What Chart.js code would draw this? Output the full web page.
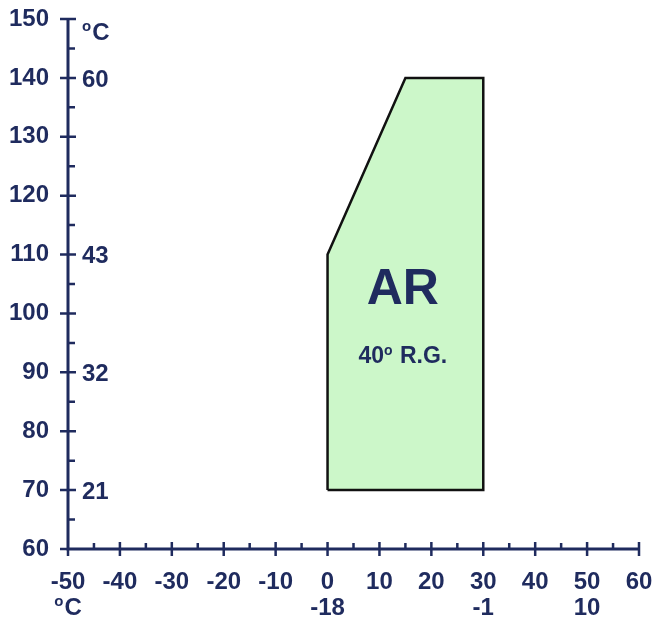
<!DOCTYPE html>
<html>
<head>
<meta charset="utf-8">
<script src="https://cdn.jsdelivr.net/npm/chart.js@4.4.1/dist/chart.umd.min.js"></script>
<style>
  html, body { margin: 0; padding: 0; background: #ffffff; }
  #wrap { width: 656px; height: 619px; position: relative; }
</style>
</head>
<body>
<div id="wrap"><canvas id="c" width="656" height="619"></canvas></div>
<script>
// ----- data -----
const xRange = [-50, 60];          // °F axis
const yRange = [60, 150];          // °F axis
const regionX = [0, 30, 30, 15, 0, 0];
const regionY = [70, 70, 140, 140, 110, 70];
const celsiusYValues = [150, 140, 110, 90, 70];
const celsiusYLabels = ['°C', '60', '43', '32', '21'];
const celsiusXValues = [-50, 0, 30, 50];
const celsiusXLabels = ['°C', '-18', '-1', '10'];
const regionTitle = 'AR';
const regionSubtitle = '40° R.G.';
const regionLabelPos = { x: 14.5, title: 104.6, subtitle: 93.0 };

// ----- style -----
const NAVY = '#1f2b5e';
const FONT = '"Liberation Sans", Arial, sans-serif';
const LABEL_SIZE = 24;

function drawRich(ctx, text, x, yMid, size, align) {
  const parts = text.split('°');
  const small = Math.round(size * 0.62);
  const widths = [];
  let total = 0;
  parts.forEach((p, i) => {
    ctx.font = 'bold ' + size + 'px ' + FONT;
    const w = ctx.measureText(p).width;
    widths.push(w); total += w;
    if (i < parts.length - 1) {
      ctx.font = 'bold ' + small + 'px ' + FONT;
      const wo = ctx.measureText('o').width + 1;
      widths.push(wo); total += wo;
    }
  });
  let cx = align === 'center' ? x - total / 2 : (align === 'right' ? x - total : x);
  const base = yMid + 0.36 * size;
  const smallBase = base - 0.716 * size + 0.6 * small;
  ctx.textBaseline = 'alphabetic';
  ctx.textAlign = 'left';
  let k = 0;
  parts.forEach((p, i) => {
    ctx.font = 'bold ' + size + 'px ' + FONT;
    ctx.fillText(p, cx, base);
    cx += widths[k++];
    if (i < parts.length - 1) {
      ctx.font = 'bold ' + small + 'px ' + FONT;
      ctx.fillText('o', cx, smallBase);
      cx += widths[k++];
    }
  });
}

const axesPlugin = {
  id: 'axesPlugin',
  afterDatasetsDraw(chart) {
    const ctx = chart.ctx;
    const xs = chart.scales.x, ys = chart.scales.y;
    const x0 = xs.getPixelForValue(xRange[0]);
    const x1 = xs.getPixelForValue(xRange[1]);
    const y0 = ys.getPixelForValue(yRange[0]);
    const y1 = ys.getPixelForValue(yRange[1]);
    ctx.save();
    ctx.strokeStyle = NAVY;
    ctx.fillStyle = NAVY;
    ctx.lineCap = 'butt';
    // axis lines
    ctx.lineWidth = 3;
    ctx.beginPath();
    ctx.moveTo(x0, y1 - 1); ctx.lineTo(x0, y0 + 1.5);
    ctx.moveTo(x0 - 1.5, y0); ctx.lineTo(x1 + 1, y0);
    ctx.stroke();
    // ticks
    ctx.lineWidth = 2.5;
    ctx.beginPath();
    ys.ticks.forEach(t => {
      const py = ys.getPixelForValue(t.value);
      if (t.value === yRange[0]) { ctx.moveTo(x0 - 8, py); ctx.lineTo(x0, py); return; }
      if (t.value % 10 === 0) { ctx.moveTo(x0 - 8, py); ctx.lineTo(x0 + 8, py); }
      else { ctx.moveTo(x0, py); ctx.lineTo(x0 + 7, py); }
    });
    xs.ticks.forEach(t => {
      const px = xs.getPixelForValue(t.value);
      if (t.value === xRange[0]) { ctx.moveTo(px, y0); ctx.lineTo(px, y0 + 7); return; }
      if (t.value % 10 === 0) { ctx.moveTo(px, y0 - 7); ctx.lineTo(px, y0 + 7); }
      else { ctx.moveTo(px, y0 - 6); ctx.lineTo(px, y0); }
    });
    ctx.stroke();
    // secondary (°C) labels
    celsiusYValues.forEach((v, i) => {
      let py = ys.getPixelForValue(v);
      if (celsiusYLabels[i] === '°C') py += 12;
      drawRich(ctx, celsiusYLabels[i], x0 + 14, py, LABEL_SIZE, 'left');
    });
    celsiusXValues.forEach((v, i) => {
      drawRich(ctx, celsiusXLabels[i], xs.getPixelForValue(v), y0 + 57, LABEL_SIZE, 'center');
    });
    // region labels
    drawRich(ctx, regionTitle, xs.getPixelForValue(regionLabelPos.x), ys.getPixelForValue(regionLabelPos.title), 50, 'center');
    drawRich(ctx, regionSubtitle, xs.getPixelForValue(regionLabelPos.x), ys.getPixelForValue(regionLabelPos.subtitle), 23, 'center');
    ctx.restore();
  }
};

const tickFont = { family: FONT, size: LABEL_SIZE, weight: 'bold' };

new Chart(document.getElementById('c'), {
  type: 'scatter',
  data: {
    datasets: [{
      data: regionX.map((x, i) => ({ x: x, y: regionY[i] })),
      showLine: true,
      fill: 'shape',
      backgroundColor: '#ccf7c9',
      borderColor: '#111111',
      borderWidth: 2.5,
      pointRadius: 0,
      tension: 0
    }]
  },
  options: {
    responsive: false,
    animation: false,
    devicePixelRatio: 1,
    layout: { padding: { top: 19, right: 17, left: 0, bottom: 0 } },
    plugins: { legend: { display: false }, tooltip: { enabled: false } },
    scales: {
      x: {
        type: 'linear', min: xRange[0], max: xRange[1],
        grid: { display: false, drawTicks: false },
        border: { display: false },
        ticks: {
          stepSize: 5, autoSkip: false, maxRotation: 0, padding: 19,
          color: NAVY, font: tickFont,
          callback: v => (v % 10 === 0 ? String(v) : '')
        },
        afterFit(s) { s.height = 70; s.paddingLeft = 0; s.paddingRight = 0; }
      },
      y: {
        type: 'linear', min: yRange[0], max: yRange[1],
        grid: { display: false, drawTicks: false },
        border: { display: false },
        ticks: {
          stepSize: 5, autoSkip: false, padding: 19,
          color: NAVY, font: tickFont,
          callback: v => (v % 10 === 0 ? String(v) : '')
        },
        afterFit(s) { s.width = 68; s.paddingTop = 0; s.paddingBottom = 0; }
      }
    }
  },
  plugins: [axesPlugin]
});
</script>
</body>
</html>
